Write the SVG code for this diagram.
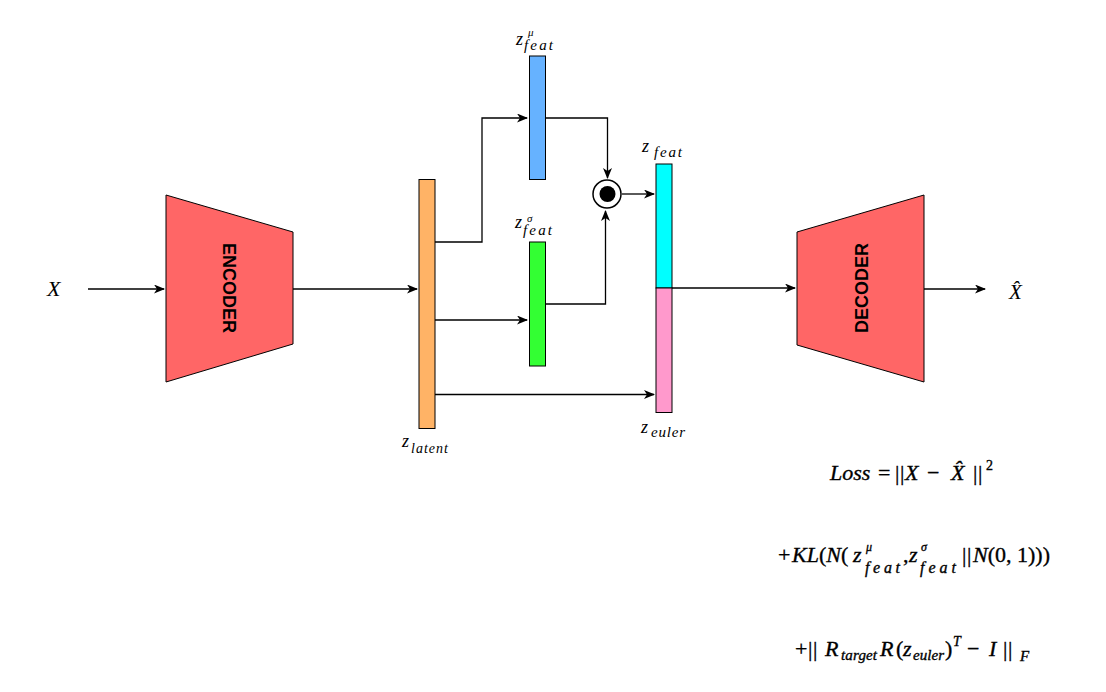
<svg xmlns="http://www.w3.org/2000/svg" width="1106" height="692" viewBox="0 0 1106 692">
<defs>
<marker id="arr" markerUnits="userSpaceOnUse" markerWidth="12" markerHeight="10" refX="10" refY="4.5" orient="auto">
<path d="M0,0 L11,4.5 L0,9 L3,4.5 z" fill="#000"/>
</marker>
<style>
.bar{stroke:#000;stroke-width:1}
.blk{fill:#FF6666;stroke:#000;stroke-width:1}
.btxt{font-family:"Liberation Sans",Arial,sans-serif;font-weight:bold;font-size:18px;fill:#000}
.m{font-family:"Liberation Serif","Times New Roman",serif;font-style:italic;fill:#000}
.r{font-family:"Liberation Serif","Times New Roman",serif;font-style:normal;fill:#000}
.eq{stroke:#000;stroke-width:0.35}
.c{fill:none;stroke:#000;stroke-width:1.3}
</style>
</defs>
<rect width="1106" height="692" fill="#fff"/>

<g id="connectors">
<path class="c" d="M88,289 L164,289" marker-end="url(#arr)"/>
<path class="c" d="M293,289 L417,289" marker-end="url(#arr)"/>
<path class="c" d="M435,242 L482,242 L482,118 L527,118" marker-end="url(#arr)"/>
<path class="c" d="M435,320 L527,320" marker-end="url(#arr)"/>
<path class="c" d="M435,394.5 L654,394.5" marker-end="url(#arr)"/>
<path class="c" d="M545,118 L607.5,118 L607.5,178" marker-end="url(#arr)"/>
<path class="c" d="M545,304 L605.5,304 L605.5,211" marker-end="url(#arr)"/>
<path class="c" d="M622,194 L654,194" marker-end="url(#arr)"/>
<path class="c" d="M672,288 L795,288" marker-end="url(#arr)"/>
<path class="c" d="M924,289 L985,289" marker-end="url(#arr)"/>
</g>

<g id="input">
<text class="m" x="47" y="296" font-size="22">X</text>
</g>

<g id="encoder">
<polygon class="blk" points="166,195 293,232 293,344 166,382"/>
<text class="btxt" x="229" y="288" text-anchor="middle" dominant-baseline="central" transform="rotate(90 229 288)">ENCODER</text>
</g>

<g id="z-latent">
<rect class="bar" x="419" y="179.5" width="16" height="249" fill="#FFB366"/>
<text class="m" x="402" y="447" font-size="18">z<tspan x="411" y="453" font-size="14" textLength="37" lengthAdjust="spacing">latent</tspan></text>
</g>

<g id="z-feat-mu">
<rect class="bar" x="529.5" y="56" width="16" height="123.5" fill="#66B2FF"/>
<text class="m" x="516" y="45" font-size="18">z<tspan x="528" y="36" font-size="11">μ</tspan><tspan x="524" y="50" font-size="15" textLength="29" lengthAdjust="spacing">feat</tspan></text>
</g>

<g id="z-feat-sigma">
<rect class="bar" x="529.5" y="242" width="16" height="124" fill="#33FF33"/>
<text class="m" x="515" y="228" font-size="18">z<tspan x="527" y="222" font-size="11">σ</tspan><tspan x="523" y="235" font-size="15" textLength="29" lengthAdjust="spacing">feat</tspan></text>
</g>

<g id="product">
<circle cx="607" cy="194" r="14" fill="#fff" stroke="#000" stroke-width="1.5"/>
<circle cx="607.5" cy="194" r="8" fill="#000"/>
</g>

<g id="z-feat">
<rect class="bar" x="656" y="164" width="16" height="124" fill="#00FFFF"/>
<text class="m" x="642" y="152" font-size="18">z<tspan x="654" y="157" font-size="15" textLength="28" lengthAdjust="spacing">feat</tspan></text>
</g>

<g id="z-euler">
<rect class="bar" x="656" y="288" width="16" height="124.5" fill="#FF99CC"/>
<text class="m" x="641" y="433" font-size="18">z<tspan x="651" y="437" font-size="15" textLength="34" lengthAdjust="spacing">euler</tspan></text>
</g>

<g id="decoder">
<polygon class="blk" points="797,232 924,195 924,382 797,345"/>
<text class="btxt" x="862" y="288" text-anchor="middle" dominant-baseline="central" transform="rotate(-90 862 288)">DECODER</text>
</g>

<g id="output">
<text class="m" x="1009" y="299" font-size="21">X̂</text>
</g>

<g id="loss">
<text class="m eq" x="830" y="480" font-size="22">Loss<tspan class="r" x="878">=</tspan><tspan class="r" x="895">|</tspan><tspan class="r" x="900">|</tspan><tspan x="905">X</tspan><tspan class="r" x="927">−</tspan><tspan x="951">X̂</tspan><tspan class="r" x="973">|</tspan><tspan class="r" x="978">|</tspan><tspan class="r" x="986" y="470" font-size="14">2</tspan></text>

<text class="r eq" x="778" y="562" font-size="22">+<tspan class="m" x="792">KL</tspan>(<tspan class="m">N</tspan>(<tspan class="m" x="853">z</tspan><tspan class="m" x="866" y="551" font-size="12">μ</tspan><tspan class="m" x="865" y="573" font-size="16" textLength="35" lengthAdjust="spacing">feat</tspan><tspan x="903" y="562">,</tspan><tspan class="m" x="909">z</tspan><tspan class="m" x="921" y="551" font-size="12">σ</tspan><tspan class="m" x="920" y="573" font-size="16" textLength="36" lengthAdjust="spacing">feat</tspan><tspan x="962" y="562">|</tspan><tspan x="967">|</tspan><tspan class="m" x="973">N</tspan>(0, 1)))</text>

<text class="r eq" x="795" y="656" font-size="22">+<tspan x="808">|</tspan><tspan x="813">|</tspan><tspan class="m" x="825">R</tspan><tspan class="m" x="841" y="660" font-size="15" textLength="36" lengthAdjust="spacing">target</tspan><tspan class="m" x="880" y="656">R</tspan><tspan x="896">(</tspan><tspan class="m" x="903">z</tspan><tspan class="m" x="913" y="660" font-size="15" textLength="31" lengthAdjust="spacing">euler</tspan><tspan x="945" y="656">)</tspan><tspan class="m" x="953" y="646" font-size="14">T</tspan><tspan x="967" y="656">−</tspan><tspan class="m" x="989">I</tspan><tspan x="1003">|</tspan><tspan x="1008">|</tspan><tspan class="m" x="1020" y="661" font-size="15">F</tspan></text>
</g>
</svg>
